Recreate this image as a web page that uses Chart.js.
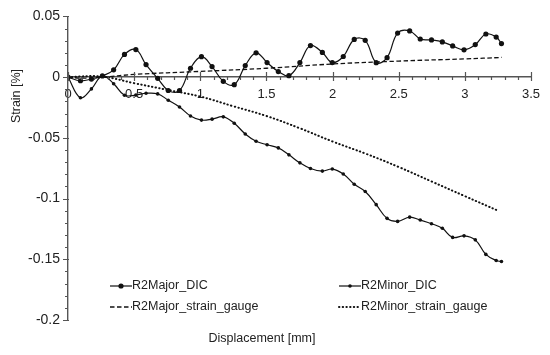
<!DOCTYPE html>
<html>
<head>
<meta charset="utf-8">
<script src="https://cdn.jsdelivr.net/npm/chart.js@4/dist/chart.umd.min.js"></script>
<style>
  html, body { margin: 0; padding: 0; background: #fff; }
  #wrap { width: 550px; height: 355px; }
</style>
</head>
<body>
<div id="wrap"><canvas id="strainChart"></canvas></div>
<script>
const seriesNames = ['R2Major_DIC', 'R2Minor_DIC', 'R2Major_strain_gauge', 'R2Minor_strain_gauge'];
const xTitle = 'Displacement [mm]';
const yTitle = 'Strain [%]';

// DIC readings (same displacement steps for both)
const dicDisp = [0, 0.094, 0.177, 0.26, 0.345, 0.427, 0.513, 0.59, 0.678, 0.758, 0.843,
  0.926, 1.009, 1.089, 1.174, 1.257, 1.34, 1.422, 1.505, 1.59, 1.67,
  1.753, 1.833, 1.923, 1.998, 2.081, 2.164, 2.247, 2.33, 2.412, 2.492,
  2.583, 2.663, 2.748, 2.83, 2.908, 2.994, 3.079, 3.159, 3.237, 3.277];
const majorDic = [0, -0.003, -0.0016, 0.001, 0.006, 0.0187, 0.0227, 0.0103, -0.001, -0.011, -0.011,
  0.0073, 0.0168, 0.0087, -0.0035, -0.0062, 0.0095, 0.02, 0.012, 0.0046, 0.0012,
  0.012, 0.026, 0.0203, 0.012, 0.017, 0.031, 0.0303, 0.0119, 0.016, 0.0363,
  0.038, 0.0314, 0.0306, 0.029, 0.0257, 0.0225, 0.0268, 0.0355, 0.033, 0.0276];
const minorDic = [0, -0.017, -0.0097, 0.001, -0.0054, -0.0149, -0.0148, -0.0133, -0.0138, -0.019, -0.0246,
  -0.032, -0.0354, -0.0346, -0.0327, -0.038, -0.0468, -0.0528, -0.0557, -0.0583, -0.064,
  -0.0706, -0.0752, -0.0774, -0.0757, -0.0798, -0.0882, -0.0942, -0.105, -0.1163, -0.1188,
  -0.1153, -0.1177, -0.1207, -0.1245, -0.132, -0.1307, -0.134, -0.146, -0.151, -0.1518];

// strain gauge readings
const gaugeMajorDisp = [0, 0.1, 0.25, 0.5, 1, 1.5, 2, 2.5, 3, 3.28];
const gaugeMajor = [0, -0.0008, -0.0002, 0.0022, 0.0047, 0.0073, 0.0108, 0.0132, 0.015, 0.0162];
const gaugeMinorDisp = [0, 0.25, 0.5, 0.75, 1, 1.25, 1.5, 1.75, 2, 2.25, 2.5, 2.75, 3, 3.26];
const gaugeMinor = [0, 0.0005, -0.005, -0.0105, -0.016, -0.024, -0.032, -0.042, -0.053, -0.063, -0.074, -0.086, -0.098, -0.1104];

const xTickLabels = ['0', '0.5', '1', '1.5', '2', '2.5', '3', '3.5'];
const yTickLabels = ['0.05', '0', '-0.05', '-0.1', '-0.15', '-0.2'];

const axisColor = '#555';
const inkColor = '#111';
const textFont = '"Liberation Sans", Arial, sans-serif';

const toPoints = (xs, ys) => xs.map((x, i) => ({x: x, y: ys[i]}));
const isMultiple = (v, step) => Math.abs(v / step - Math.round(v / step)) < 1e-6;
const fmt = v => String(Math.round(v * 100) / 100);

const datasets = [
  {label: seriesNames[0], data: toPoints(dicDisp, majorDic), borderColor: inkColor, backgroundColor: inkColor,
    borderWidth: 1.2, pointRadius: 2.6, pointBorderWidth: 0, tension: 0.4},
  {label: seriesNames[1], data: toPoints(dicDisp, minorDic), borderColor: inkColor, backgroundColor: inkColor,
    borderWidth: 1.2, pointRadius: 1.8, pointBorderWidth: 0, tension: 0.4},
  {label: seriesNames[2], data: toPoints(gaugeMajorDisp, gaugeMajor), borderColor: inkColor,
    borderWidth: 1.3, borderDash: [4.5, 2.5], pointRadius: 0, tension: 0.4},
  {label: seriesNames[3], data: toPoints(gaugeMinorDisp, gaugeMinor), borderColor: inkColor,
    borderWidth: 2, borderDash: [0.4, 3.3], borderCapStyle: 'round', pointRadius: 0, tension: 0.4}
];

// minor/major tick marks on both axes
const axisTicks = {
  id: 'axisTicks',
  afterDraw(chart) {
    const {ctx} = chart;
    const xs = chart.scales.x, ys = chart.scales.y;
    const y0 = ys.getPixelForValue(0);
    const x0 = chart.chartArea.left;
    ctx.save();
    ctx.strokeStyle = axisColor;
    ctx.lineWidth = 1.2;
    ctx.beginPath();
    xs.ticks.forEach(t => {
      const px = Math.round(xs.getPixelForValue(t.value)) + 0.5;
      const major = isMultiple(t.value, 0.5);
      ctx.moveTo(px, major ? y0 - 5 : y0);
      ctx.lineTo(px, y0 + (major ? 4 : 3));
    });
    ys.ticks.forEach(t => {
      const py = Math.round(ys.getPixelForValue(t.value)) + 0.5;
      const major = isMultiple(t.value, 0.05);
      ctx.moveTo(major ? x0 - 5 : x0 - 3, py);
      ctx.lineTo(major ? x0 + 1 : x0, py);
    });
    ctx.stroke();
    ctx.restore();
  }
};

// axis titles and the two-column legend
const labelsAndLegend = {
  id: 'labelsAndLegend',
  afterDraw(chart) {
    const {ctx} = chart;
    ctx.save();
    ctx.fillStyle = '#222';
    ctx.font = '12.5px ' + textFont;
    ctx.textAlign = 'center';
    ctx.textBaseline = 'middle';
    ctx.fillText(xTitle, 262, 339);
    ctx.save();
    ctx.translate(17, 96);
    ctx.rotate(-Math.PI / 2);
    ctx.fillText(yTitle, 0, 0);
    ctx.restore();

    const cols = [110, 339];
    const rows = [286, 307];
    chart.data.datasets.forEach((ds, i) => {
      const lx = cols[i % 2], ly = rows[Math.floor(i / 2)];
      ctx.strokeStyle = ds.borderColor;
      ctx.lineWidth = ds.borderWidth;
      ctx.lineCap = ds.borderCapStyle || 'butt';
      ctx.setLineDash(ds.borderDash || []);
      ctx.beginPath();
      ctx.moveTo(lx, ly);
      ctx.lineTo(lx + 22, ly);
      ctx.stroke();
      ctx.setLineDash([]);
      if (ds.pointRadius > 0) {
        ctx.fillStyle = ds.backgroundColor;
        ctx.beginPath();
        ctx.arc(lx + 11, ly, ds.pointRadius, 0, Math.PI * 2);
        ctx.fill();
      }
      ctx.fillStyle = '#222';
      ctx.textAlign = 'left';
      ctx.fillText(ds.label, lx + 22, ly);
    });
    ctx.restore();
  }
};

new Chart(document.getElementById('strainChart'), {
  type: 'line',
  data: {datasets},
  options: {
    responsive: true,
    maintainAspectRatio: false,
    animation: false,
    devicePixelRatio: 1,
    layout: {padding: {left: 0, top: 12, right: 16, bottom: 35}},
    plugins: {legend: {display: false}, tooltip: {enabled: false}},
    scales: {
      x: {
        type: 'linear',
        position: {y: 0},
        min: 0, max: 3.5,
        afterFit: s => { s.height = 0; },
        grid: {display: false, drawTicks: false},
        border: {display: true, color: axisColor, width: 1.4},
        ticks: {
          stepSize: 0.1, autoSkip: false, maxRotation: 0, padding: 10,
          color: '#222', font: {family: textFont, size: 13},
          callback: v => isMultiple(v, 0.5) && xTickLabels.includes(fmt(v)) ? fmt(v) : ''
        }
      },
      y: {
        min: -0.2, max: 0.05,
        afterFit: s => { s.width = 68; },
        grid: {display: false, drawTicks: false},
        border: {display: true, color: axisColor, width: 1.4},
        ticks: {
          stepSize: 0.01, autoSkip: false, padding: 8,
          color: '#222', font: {family: textFont, size: 14},
          callback: v => isMultiple(v, 0.05) && yTickLabels.includes(fmt(v)) ? fmt(v) : ''
        }
      }
    }
  },
  plugins: [axisTicks, labelsAndLegend]
});
</script>
</body>
</html>
